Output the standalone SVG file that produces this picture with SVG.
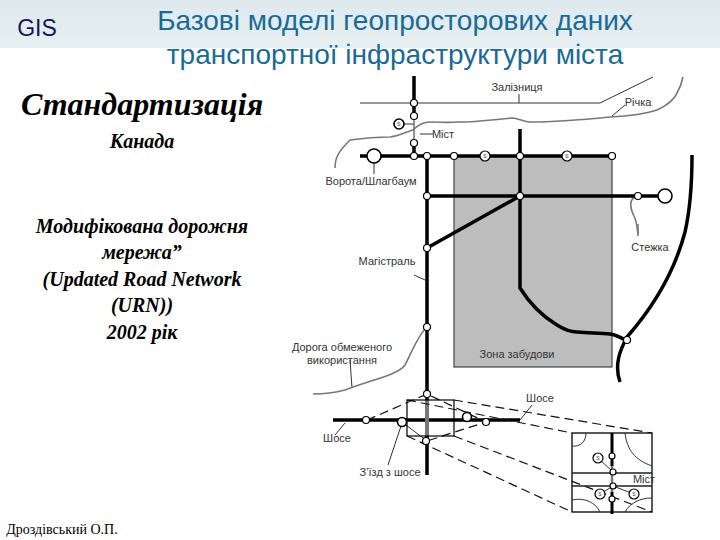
<svg xmlns="http://www.w3.org/2000/svg" width="720" height="540" viewBox="0 0 720 540">
<defs>
<linearGradient id="band" x1="0" y1="0" x2="0" y2="1"><stop offset="0" stop-color="#dfeaee"/><stop offset="1" stop-color="#e6eff2"/></linearGradient>
</defs>
<style>
.road{fill:none;stroke:#000;stroke-width:3.5}
.thin{fill:none;stroke:#333;stroke-width:1}
.gray{fill:none;stroke:#777;stroke-width:1.6}
.dash{fill:none;stroke:#111;stroke-width:1.2;stroke-dasharray:9 5}
.n{fill:#fff;stroke:#000;stroke-width:1.2}
.big{fill:#fff;stroke:#000;stroke-width:1.6}
.lab{font-family:"Liberation Sans",Arial,sans-serif;font-size:11px;fill:#333;text-anchor:middle}
.sm{font-family:"Liberation Sans",Arial,sans-serif;font-size:5px;fill:#333;text-anchor:middle}
.it{font-family:"Liberation Serif","Times New Roman",serif;font-style:italic;font-weight:bold;font-size:20px;fill:#000;text-anchor:middle}
.title{font-family:"Liberation Sans",Arial,sans-serif;font-size:28px;fill:#1a6a96;text-anchor:middle}
</style>
<rect x="0" y="0" width="720" height="48" fill="url(#band)"/>
<text x="37" y="36" font-family="'Liberation Sans',Arial,sans-serif" font-size="23" fill="#14145a" text-anchor="middle">GIS</text>
<text class="title" x="395" y="30">Базові моделі геопросторових даних</text>
<text class="title" x="395" y="64">транспортної інфраструктури міста</text>
<text x="142" y="115" font-family="'Liberation Serif','Times New Roman',serif" font-style="italic" font-weight="bold" font-size="32" text-anchor="middle">Стандартизація</text>
<text class="it" x="142" y="148">Канада</text>
<text class="it" x="142" y="233">Модифікована дорожня</text>
<text class="it" x="142" y="259">мережа”</text>
<text class="it" x="142" y="286">(Updated Road Network</text>
<text class="it" x="142" y="312">(URN))</text>
<text class="it" x="142" y="339">2002 рік</text>
<text x="62" y="534" font-family="'Liberation Serif','Times New Roman',serif" font-size="14" fill="#000" text-anchor="middle">Дроздівський О.П.</text>

<g id="zone"><rect x="454" y="156" width="158" height="211" fill="#bdbdbd" stroke="#444" stroke-width="1.2"/><text class="lab" x="517" y="358">Зона забудови</text></g>

<g id="connectors">
<path class="thin" d="M360 103H600L653 77M519 103V94M404 124H414M420 134H433M374 163V174M345 423L335 435M402 423L388 465M520 420L532 405M414 275L425 280M350 360L352 388M638 224V236M612 116L625 105"/>
<path class="gray" d="M335 168C335 158 338 152 350 140C365 138 378 137 390 137C400 136 408 131 413 130C418 125 424 122 430 122C440 122 448 123 457 122C480 122 498 119 513 118C520 119 524 122 530 122C560 122 590 119 610 117C630 116 645 114 657 110C668 105 675 98 677 93C680 88 682 82 683 77"/>
<path class="gray" d="M638 196C628 198 630 208 634 216C637 222 637 228 638 234"/>
<path class="gray" d="M427 327C418 335 412 352 405 365C398 375 370 380 345 390C330 394 320 394 313 394"/>
<path class="gray" d="M414 116V143"/>
<path class="road" d="M414 76V116M414 143V156M360 156H612M427 156V394M427 394V400M427 436V475M427 196H665M520 129V288C530 304 542 316 557 325C565 330 572 332 577 332C590 333 600 333 610 334C617 335 622 338 627 341"/>
<path class="road" d="M520 196L427 248"/>
<path class="road" d="M692 155C692 185 690 210 685 232C675 270 655 305 627 337C620 350 614 365 620 382"/>
<path class="road" d="M333 420H520"/>
<path d="M427 400V436" fill="none" stroke="#777" stroke-width="4"/>
<path class="dash" d="M454 400L652 433M407 400L572 433M454 436L652 512M407 436L572 512M367 420L427 394L486 422L427 441"/>
<path class="thin" d="M402 422L427 441"/>
</g>

<g id="zoom-box"><rect x="407" y="400" width="47" height="36" fill="none" stroke="#000" stroke-width="1.2"/></g>
<g id="inset">
<rect x="572" y="433" width="80" height="79" fill="none" stroke="#000" stroke-width="1.3"/>
<path d="M572 473H652M572 486H652" fill="none" stroke="#222" stroke-width="1.6"/>
<path d="M612 433V466M612 492V514" fill="none" stroke="#000" stroke-width="3"/>
<path d="M612 466V492" fill="none" stroke="#777" stroke-width="2.5"/>
<path class="thin" d="M598 458L613 472M613 486L634 494M600 494L613 486M586 433C586 442 580 447 572 446M625 433C627 450 635 460 652 466M572 500C585 497 596 503 600 512M652 498C640 498 630 503 625 512"/>
<circle class="n" cx="612" cy="456" r="3"/><circle class="n" cx="613" cy="472" r="3"/><circle class="n" cx="613" cy="486" r="3"/><circle class="n" cx="612" cy="499" r="3"/>
<circle class="n" cx="598" cy="458" r="5"/><circle class="n" cx="634" cy="494" r="5"/><circle class="n" cx="600" cy="494" r="5"/>
<text class="sm" x="598" y="460">S</text><text class="sm" x="634" y="496">S</text><text class="sm" x="600" y="496">S</text>
<text x="644" y="483" font-family="'Liberation Sans',Arial,sans-serif" font-size="11" fill="#333" text-anchor="middle">Міст</text>
</g>

<g id="n-rail"><circle class="n" cx="414" cy="103" r="3.5"/></g>
<g id="n-bridge1"><circle class="n" cx="414" cy="116" r="3.5"/></g>
<g id="n-bridge2"><circle class="n" cx="414" cy="143" r="3.5"/></g>
<g id="n-junction"><circle class="n" cx="414" cy="156" r="3.5"/></g>
<g id="n-s1"><circle class="big" cx="399" cy="124" r="5"/><text class="sm" x="399" y="126">S</text></g>
<g id="n-gate1"><circle class="big" cx="374" cy="156" r="7"/></g>
<g id="n-a"><circle class="n" cx="427" cy="156" r="3.5"/></g>
<g id="n-b"><circle class="n" cx="454" cy="156" r="3.5"/></g>
<g id="n-s2"><circle class="n" cx="485" cy="156" r="5"/><text class="sm" x="485" y="158">S</text></g>
<g id="n-c"><circle class="n" cx="520" cy="156" r="3.5"/></g>
<g id="n-s3"><circle class="n" cx="567" cy="156" r="5"/><text class="sm" x="567" y="158">S</text></g>
<g id="n-d"><circle class="n" cx="612" cy="156" r="3.5"/></g>
<g id="n-e"><circle class="n" cx="427" cy="196" r="3.5"/></g>
<g id="n-f"><circle class="n" cx="520" cy="196" r="3.5"/></g>
<g id="n-g"><circle class="n" cx="638" cy="196" r="3.5"/></g>
<g id="n-gate2"><circle class="big" cx="665" cy="196" r="7"/></g>
<g id="n-h"><circle class="n" cx="427" cy="248" r="3.5"/></g>
<g id="n-i"><circle class="n" cx="427" cy="327" r="3.5"/></g>
<g id="n-j"><circle class="n" cx="627" cy="340" r="3.5"/></g>
<g id="n-k"><circle class="n" cx="427" cy="394" r="3.5"/></g>
<g id="n-l"><circle class="n" cx="426" cy="441" r="3.5"/></g>
<g id="n-m"><circle class="n" cx="366" cy="420" r="3.5"/></g>
<g id="n-o"><circle class="big" cx="402" cy="422" r="4.5"/></g>
<g id="n-p"><circle class="big" cx="467" cy="417" r="4.5"/></g>
<g id="n-q"><circle class="n" cx="486" cy="422" r="3.5"/></g>

<g id="labels">
<text class="lab" x="517" y="91">Залізниця</text>
<text class="lab" x="638" y="106">Річка</text>
<text class="lab" x="443" y="138">Міст</text>
<text class="lab" x="371" y="185">Ворота/Шлагбаум</text>
<text class="lab" x="650" y="251">Стежка</text>
<text class="lab" x="387" y="265">Магістраль</text>
<text class="lab" x="342" y="351">Дорога обмеженого</text>
<text class="lab" x="342" y="364">використання</text>
<text class="lab" x="540" y="402">Шосе</text>
<text class="lab" x="337" y="442">Шосе</text>
<text class="lab" x="390" y="476">З’їзд з шосе</text>
</g>
</svg>
